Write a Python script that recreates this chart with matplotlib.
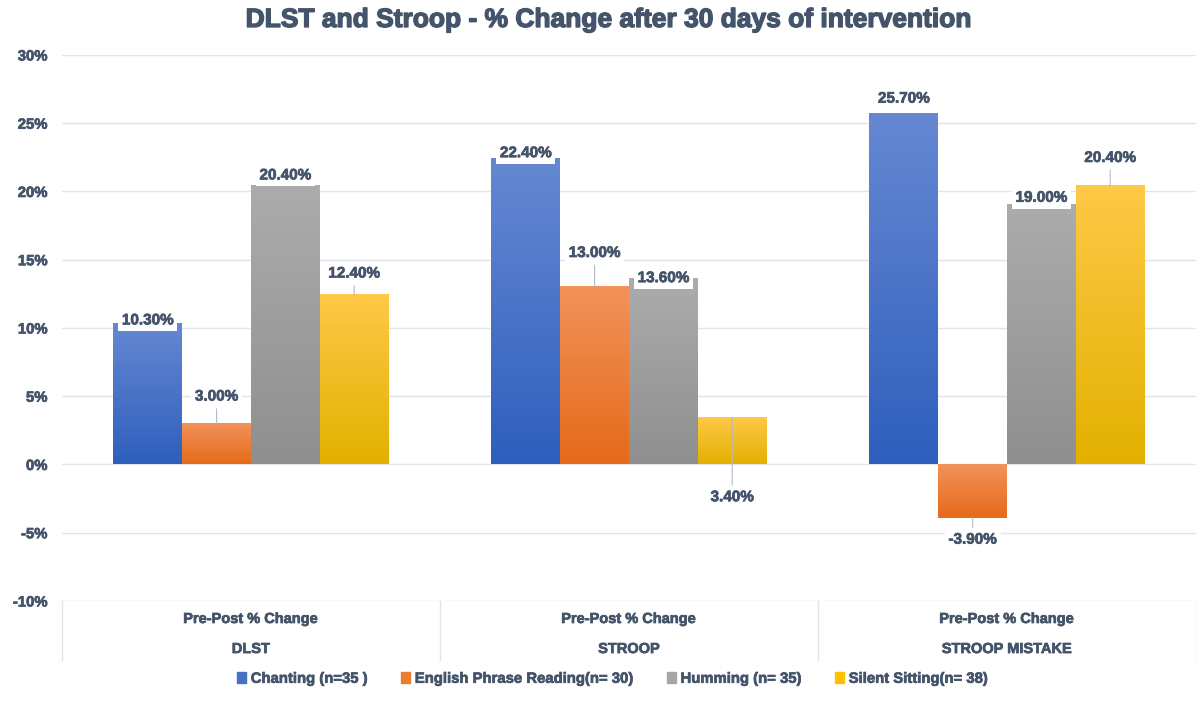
import numpy as np
import matplotlib
matplotlib.use('Agg')
import matplotlib.pyplot as plt
import matplotlib.patheffects as pe
from matplotlib.ticker import PercentFormatter
from matplotlib.patches import Rectangle
from matplotlib.colors import to_rgb

# datos del grafico (en %)
categories = ['DLST', 'STROOP', 'STROOP MISTAKE']
sublabel = 'Pre-Post % Change'
series = ['Chanting (n=35 )', 'English Phrase Reading(n= 30)', 'Humming (n= 35)', 'Silent Sitting(n= 38)']
chanting = [10.3, 22.4, 25.7]
english = [3.0, 13.0, -3.9]
humming = [20.4, 13.6, 19.0]
silent = [12.4, 3.4, 20.4]
yticks = [-10, -5, 0, 5, 10, 15, 20, 25, 30]

# estilos
txt = '#44546A'
base = ['#4472C4', '#ED7D31', '#A5A5A5', '#FFC000']
top_c = ['#6688D2', '#F2925A', '#ACACAC', '#FFC847']
bot_c = ['#2E5FBD', '#E56A1A', '#8F8F8F', '#E2B100']
# desplazamiento de etiquetas (puntos) y linea guia
offsets = [[2.5, 19.4, 7.6, 15.6],
           [4.0, 24.5, 0.5, -57.0],
           [10.8, -15.8, 5.3, 20.2]]
leader = [False, True, False, True]

plt.rcParams['font.family'] = ['Liberation Sans', 'DejaVu Sans']
plt.rcParams['font.weight'] = 'bold'
plt.rcParams['axes.unicode_minus'] = False
heavy = [pe.withStroke(linewidth=0.5, foreground=txt)]

fig = plt.figure(figsize=(11.96, 7.13), dpi=100)
ax = fig.add_axes([0.0518, 0.1571, 0.9482, 0.7658])

x = np.arange(len(categories))
w = 0.182
data = [chanting, english, humming, silent]

for i, vals in enumerate(data):
    bars = ax.bar(x + (i - 1.5) * w, vals, w, color=base[i], zorder=2)
    grad = np.linspace(0, 1, 100)[:, None, None]
    img = (1 - grad) * np.array(to_rgb(top_c[i])) + grad * np.array(to_rgb(bot_c[i]))
    for j, b in enumerate(bars):
        x0, y0 = b.get_x(), b.get_y()
        bw, bh = b.get_width(), b.get_height()
        lo, hi = min(y0, y0 + bh), max(y0, y0 + bh)
        ax.imshow(img, extent=(x0, x0 + bw, lo, hi), aspect='auto', zorder=3, interpolation='bilinear')
        v = vals[j]
        off = offsets[j][i]
        kw = {}
        if leader[i]:
            kw['arrowprops'] = dict(arrowstyle='-', color='#B4BAC6', lw=0.8, shrinkA=1, shrinkB=0)
        ax.annotate(f'{v:.2f}%', xy=(x0 + bw / 2, v), xytext=(0, off), textcoords='offset points',
                    ha='center', va='center', fontsize=11, fontweight='bold', color=txt, zorder=5,
                    bbox=dict(boxstyle='square,pad=0.25', fc='white', ec='none'),
                    path_effects=heavy, **kw)

ax.set_xlim(-0.5, len(categories) - 0.5)
ax.set_ylim(-10, 30)
ax.set_yticks(yticks)
ax.yaxis.set_major_formatter(PercentFormatter(xmax=100, decimals=0))
ax.tick_params(axis='y', length=0, pad=10.5, labelsize=10.7, labelcolor=txt)
ax.set_xticks([])
for lab in ax.get_yticklabels():
    lab.set_fontweight('bold')
    lab.set_path_effects(heavy)
ax.yaxis.grid(True, color='#E1E4EA', lw=1)
ax.set_axisbelow(True)
for s in ax.spines.values():
    s.set_visible(False)

# eje de categorias de dos niveles
trans = ax.get_xaxis_transform()
for k in range(len(categories) + 1):
    ax.plot([k - 0.5, k - 0.5], [0, -0.108], transform=trans, color='#E1E4EA', lw=1, clip_on=False)
for k, c in enumerate(categories):
    ax.text(k, -0.033, sublabel, transform=trans, ha='center', va='center', fontsize=10.5,
            fontweight='bold', color=txt, path_effects=heavy)
    ax.text(k, -0.088, c, transform=trans, ha='center', va='center', fontsize=10.5,
            fontweight='bold', color=txt, path_effects=heavy)

fig.text(0.509, 0.972, 'DLST and Stroop - % Change after 30 days of intervention', ha='center',
         va='center', fontsize=19, fontweight='bold', color=txt,
         path_effects=[pe.withStroke(linewidth=1.0, foreground=txt)])

handles = [Rectangle((0, 0), 1, 1, color=c) for c in base]
leg = fig.legend(handles, series, loc='center', bbox_to_anchor=(0.512, 0.048), ncol=4, frameon=False,
                 handlelength=0.6, handleheight=0.8, handletextpad=0.3, columnspacing=2.3,
                 prop={'weight': 'bold', 'size': 10.7})
for t in leg.get_texts():
    t.set_color(txt)
    t.set_path_effects(heavy)

fig.savefig('out.png', dpi=100)
